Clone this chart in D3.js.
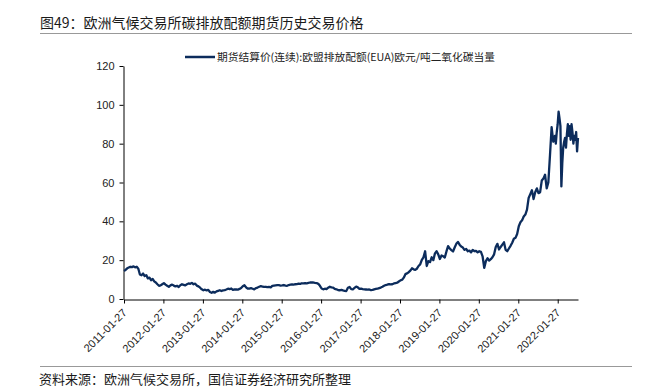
<html>
<head>
<meta charset="utf-8">
<script src="https://cdn.jsdelivr.net/npm/d3@7"></script>
<style>
  body { margin:0; background:#fff; }
  text { font-family: "Liberation Sans", Arial, sans-serif; }
  .cjk { font-family: "Noto Sans CJK SC", sans-serif; }
</style>
</head>
<body>
<script>
// chart data (semi-monthly points per year)
let titleText = "图49：欧洲气候交易所碳排放配额期货历史交易价格";
let legendText = "期货结算价(连续):欧盟排放配额(EUA)欧元/吨二氧化碳当量";
let sourceText = "资料来源：欧洲气候交易所，国信证券经济研究所整理";

let yTicks = [0, 20, 40, 60, 80, 100, 120];
let xTickLabels = ["2011-01-27","2012-01-27","2013-01-27","2014-01-27","2015-01-27","2016-01-27",
                   "2017-01-27","2018-01-27","2019-01-27","2020-01-27","2021-01-27","2022-01-27"];

let p2011 = [14.4, 15.0, 15.8, 16.2, 16.6, 16.4, 16.8, 16.3, 16.6, 15.6, 12.6, 12.2, 13.1, 11.8, 12.3, 10.6, 11.0, 9.7, 10.3, 9.1, 8.5, 7.6, 6.8];
let p2012 = [7.0, 7.6, 8.2, 7.4, 6.8, 6.3, 7.0, 7.4, 6.9, 6.5, 6.8, 6.2, 7.1, 7.6, 7.3, 7.0, 7.6, 8.0, 7.8, 8.3, 7.6, 7.9, 6.9, 6.5];
let p2013 = [5.8, 5.0, 4.5, 4.8, 4.4, 4.7, 3.6, 3.2, 3.7, 3.3, 3.9, 4.2, 4.5, 4.1, 4.4, 4.6, 4.9, 5.3, 5.1, 5.4, 4.7, 4.9, 5.0, 4.8];
let p2014 = [5.2, 5.7, 6.6, 7.1, 6.0, 5.3, 5.4, 5.6, 5.3, 5.0, 5.6, 5.9, 6.3, 6.6, 6.4, 6.2, 6.3, 6.1, 6.2, 6.0, 6.8, 6.9, 7.0, 7.1];
let p2015 = [7.1, 6.9, 7.0, 7.2, 6.9, 6.8, 7.2, 7.4, 7.5, 7.4, 7.6, 7.7, 7.9, 7.8, 8.1, 8.0, 8.2, 8.1, 8.3, 8.5, 8.6, 8.5, 8.3, 8.2];
let p2016 = [7.8, 6.8, 5.4, 5.0, 5.3, 5.1, 5.8, 6.3, 6.0, 5.9, 5.2, 5.0, 4.6, 4.5, 4.7, 4.4, 4.2, 4.1, 5.8, 6.2, 5.1, 5.0, 5.7, 6.4];
let p2017 = [6.0, 5.2, 5.3, 5.1, 5.0, 4.9, 4.8, 4.9, 4.6, 4.7, 5.0, 5.2, 5.3, 5.6, 5.9, 6.3, 6.8, 7.2, 7.4, 7.7, 7.5, 7.6, 8.0, 8.2];
let p2018 = [8.4, 9.0, 9.6, 9.9, 11.0, 12.8, 13.2, 13.8, 14.6, 15.8, 15.3, 15.0, 15.6, 17.0, 17.8, 20.2, 21.5, 24.6, 17.0, 19.5, 19.0, 21.5, 20.0, 23.5];
let p2019 = [24.6, 23.0, 20.6, 22.4, 22.0, 21.4, 24.5, 27.2, 26.0, 25.2, 24.5, 26.5, 28.4, 29.4, 28.0, 27.0, 26.5, 25.3, 25.8, 24.6, 24.9, 24.0, 25.3, 24.6];
let p2020 = [24.8, 24.0, 24.6, 24.3, 22.0, 16.0, 19.5, 21.0, 19.8, 20.5, 21.5, 23.0, 26.8, 28.4, 25.5, 26.8, 28.0, 29.2, 25.3, 24.6, 26.0, 27.4, 29.0, 31.0];
let p2021 = [31.5, 33.5, 37.5, 39.5, 40.5, 42.5, 43.5, 46.0, 52.0, 54.0, 56.0, 51.5, 55.0, 57.0, 54.5, 55.0, 61.0, 62.0, 64.0, 57.0, 60.0, 74.0, 88.5, 81.0];
let p2022 = [84, 80, 86, 90, 96.5, 93, 89, 58, 70, 78, 81, 83, 78, 85, 90, 84, 89, 82, 90, 86, 80, 84, 82, 86, 76, 83];

let screen = {width:645, height:387};
let lineColor = "#0c2c5c";

let startDate = new Date(2011, 0, 27);
let endDate = new Date(2022, 7, 3);

// spread each year's points evenly over that year
let buildSeries = function() {
    let years = [p2011,p2012,p2013,p2014,p2015,p2016,p2017,p2018,p2019,p2020,p2021,p2022];
    let out = [];
    years.forEach(function(vals, k){
        let yr = 2011 + k;
        let s = (yr === 2011) ? startDate : new Date(yr, 0, 1);
        if (yr === 2022) {
            let step = (endDate - s) / (vals.length - 1);
            vals.forEach(function(v,i){ out.push({date:new Date(+s + i*step), value:v}); });
        } else {
            let step = (new Date(yr+1, 0, 1) - s) / vals.length;
            vals.forEach(function(v,i){ out.push({date:new Date(+s + i*step), value:v}); });
        }
    });
    return out;
};
let series = buildSeries();

let svg = d3.select("body").append("svg")
    .attr("width", screen.width)
    .attr("height", screen.height);

let xScale = d3.scaleTime().domain([startDate, endDate]).range([124, 578]);
let yScale = d3.scaleLinear().domain([0, 120]).range([299, 66]);

//title
svg.append("text").attr("class","cjk")
    .attr("x", 40).attr("y", 28)
    .style("font-size","14px").style("fill","#1a1a1a")
    .text(titleText);
svg.append("line").attr("x1",40).attr("x2",632).attr("y1",33.5).attr("y2",33.5)
    .style("stroke","#999").style("stroke-width",1);

//legend
svg.append("line").attr("x1",185).attr("x2",215).attr("y1",57).attr("y2",57)
    .style("stroke",lineColor).style("stroke-width",2.5);
svg.append("text").attr("class","cjk")
    .attr("x", 217).attr("y", 60.5)
    .attr("textLength", 278).attr("lengthAdjust","spacingAndGlyphs")
    .style("font-size","10.5px").style("fill","#222")
    .text(legendText);

//y-axis
let yAxis = svg.append("g")
    .attr("transform","translate(123.5,0)")
    .call(d3.axisLeft(yScale).tickValues(yTicks).tickSize(4).tickSizeOuter(0).tickPadding(5));
yAxis.selectAll("text").style("font-size","11px").style("fill","#222")
    .style("font-family","Liberation Sans, Arial, sans-serif");

//x-axis
let parse = d3.timeParse("%Y-%m-%d");
let xAxis = svg.append("g")
    .attr("transform","translate(0,299.5)")
    .call(d3.axisBottom(xScale)
        .tickValues(xTickLabels.map(parse))
        .tickFormat(d3.timeFormat("%Y-%m-%d"))
        .tickSize(4).tickSizeOuter(0));
xAxis.selectAll("text")
    .style("font-size","11px").style("fill","#222")
    .style("font-family","Liberation Sans, Arial, sans-serif")
    .attr("text-anchor","end")
    .attr("y", 0).attr("dy", 0)
    .attr("transform","translate(3,14) rotate(-45)");
svg.selectAll(".domain, .tick line").style("stroke","#000");

//line
let line = d3.line()
    .x(function(d){ return xScale(d.date); })
    .y(function(d){ return yScale(d.value); });
svg.append("path").datum(series)
    .attr("d", line)
    .style("fill","none")
    .style("stroke",lineColor)
    .style("stroke-width",2.3)
    .style("stroke-linejoin","round");

//footer
svg.append("line").attr("x1",40).attr("x2",632).attr("y1",366.5).attr("y2",366.5)
    .style("stroke","#999").style("stroke-width",1);
svg.append("text").attr("class","cjk")
    .attr("x", 39).attr("y", 384)
    .style("font-size","13px").style("fill","#1a1a1a")
    .text(sourceText);
</script>
</body>
</html>
